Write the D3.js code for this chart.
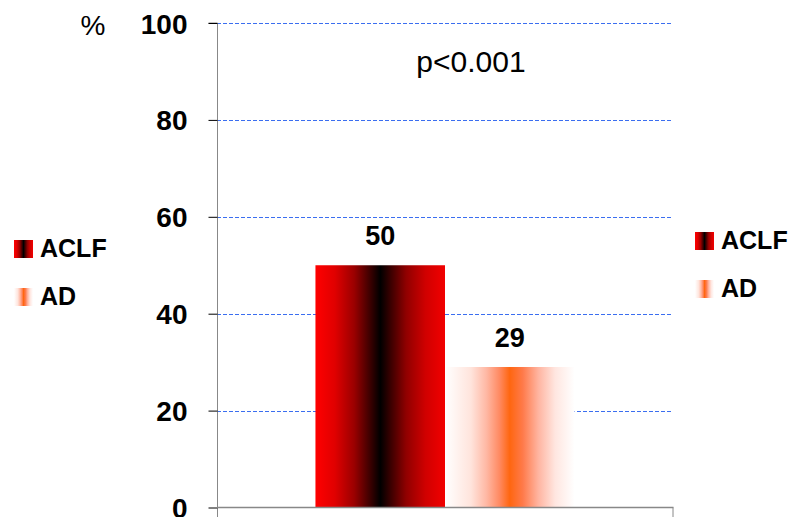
<!DOCTYPE html>
<html>
<head>
<meta charset="utf-8">
<script src="https://cdn.jsdelivr.net/npm/d3@7"></script>
<style>
  html, body { margin: 0; padding: 0; background: #fff; }
  svg { display: block; font-family: "Liberation Sans", Arial, sans-serif; }
</style>
</head>
<body>
<svg id="chart" width="792" height="517"></svg>
<script>
// Share of patients (%) by group
const groups = [""];
const series = ["ACLF", "AD"];
const values = [50, 29];
const yTicks = [0, 20, 40, 60, 80, 100];
const pLabel = "p<0.001";

const svg = d3.select("#chart");
const margin = { left: 217, right: 119, top: 23, bottom: 9 };
const W = 792, H = 517;

const y = d3.scaleLinear().domain([0, 100]).range([H - margin.bottom - 0.5, margin.top]);
const x0 = d3.scaleBand().domain(groups).range([margin.left, W - margin.right])
  .paddingInner(0).paddingOuter(0.38);
const x1 = d3.scaleBand().domain(series).range([0, x0.bandwidth()]).padding(0);

// Gradients
const defs = svg.append("defs");
const gA = defs.append("linearGradient").attr("id", "gradACLF");
[[0, "#ff0000"], [0.15, "#e00000"], [0.3, "#9a0000"], [0.5, "#000000"], [0.7, "#900000"], [0.85, "#d00000"], [1, "#f20000"]]
  .forEach(([o, c]) => gA.append("stop").attr("offset", o).attr("stop-color", c));
const gD = defs.append("linearGradient").attr("id", "gradAD");
[[0, "#ffffff"], [0.2, "#ffe4dc"], [0.32, "#ffb8a4"], [0.42, "#ff8a62"], [0.5, "#ff6610"], [0.6, "#ff7a4a"], [0.72, "#ffb4a0"], [0.85, "#ffe6e0"], [1, "#ffffff"]]
  .forEach(([o, c]) => gD.append("stop").attr("offset", o).attr("stop-color", c));
const fills = { ACLF: "url(#gradACLF)", AD: "url(#gradAD)" };

// Gridlines
svg.append("g").selectAll("line").data(yTicks.filter(t => t > 0)).join("line")
  .attr("x1", margin.left).attr("x2", W - margin.right)
  .attr("y1", d => Math.round(y(d)) + 0.5).attr("y2", d => Math.round(y(d)) + 0.5)
  .attr("stroke", "#3b6ef0").attr("stroke-width", 1).attr("stroke-dasharray", "4,2");

// Bars
const bars = svg.append("g");
series.forEach((s, i) => {
  bars.append("rect")
    .attr("x", x0("") + x1(s)).attr("width", x1.bandwidth())
    .attr("y", y(values[i])).attr("height", y(0) - y(values[i]))
    .attr("fill", fills[s]);
  bars.append("text")
    .attr("x", x0("") + x1(s) + x1.bandwidth() / 2)
    .attr("y", y(values[i]) - 20)
    .attr("text-anchor", "middle").attr("font-size", 27).attr("font-weight", "bold")
    .text(values[i]);
});

// Y axis
const yAxis = d3.axisLeft(y).tickValues(yTicks).tickSize(9).tickPadding(21);
const ya = svg.append("g").attr("transform", `translate(${margin.left + 0.5},0)`).call(yAxis);
ya.select(".domain").attr("stroke", "#888").attr("d", `M-9,${y(100)}H0V${H}`);
ya.selectAll(".tick line").attr("stroke", "#000");
ya.selectAll(".tick text").attr("font-size", 28).attr("font-weight", "bold")
  .attr("font-family", "Liberation Sans, Arial, sans-serif").attr("fill", "#000").attr("dy", "0.36em");

// X axis baseline
const xa = svg.append("g").attr("transform", `translate(0,${y(0)})`);
xa.append("line").attr("x1", margin.left).attr("x2", W - margin.right + 0.5)
  .attr("stroke", "#888").attr("stroke-width", 1.5);
xa.append("line").attr("x1", W - margin.right).attr("x2", W - margin.right)
  .attr("y1", 0).attr("y2", 10).attr("stroke", "#888");

// Unit label and p-value
svg.append("text").attr("x", 93).attr("y", 35).attr("text-anchor", "middle")
  .attr("font-size", 28).text("%");
svg.append("text").attr("x", 471).attr("y", 72).attr("text-anchor", "middle")
  .attr("font-size", 30).text(pLabel);

// Legends (left and right)
function legend(x, yTop) {
  const g = svg.append("g").attr("transform", `translate(${x},${yTop})`);
  series.forEach((s, i) => {
    g.append("rect").attr("x", 0).attr("y", i * 48).attr("width", 19).attr("height", 18)
      .attr("fill", fills[s]);
    g.append("text").attr("x", 26).attr("y", i * 48 + 17).attr("font-size", 25)
      .attr("font-weight", "bold").text(s);
  });
}
legend(14, 240);
legend(695, 232);
</script>
</body>
</html>
